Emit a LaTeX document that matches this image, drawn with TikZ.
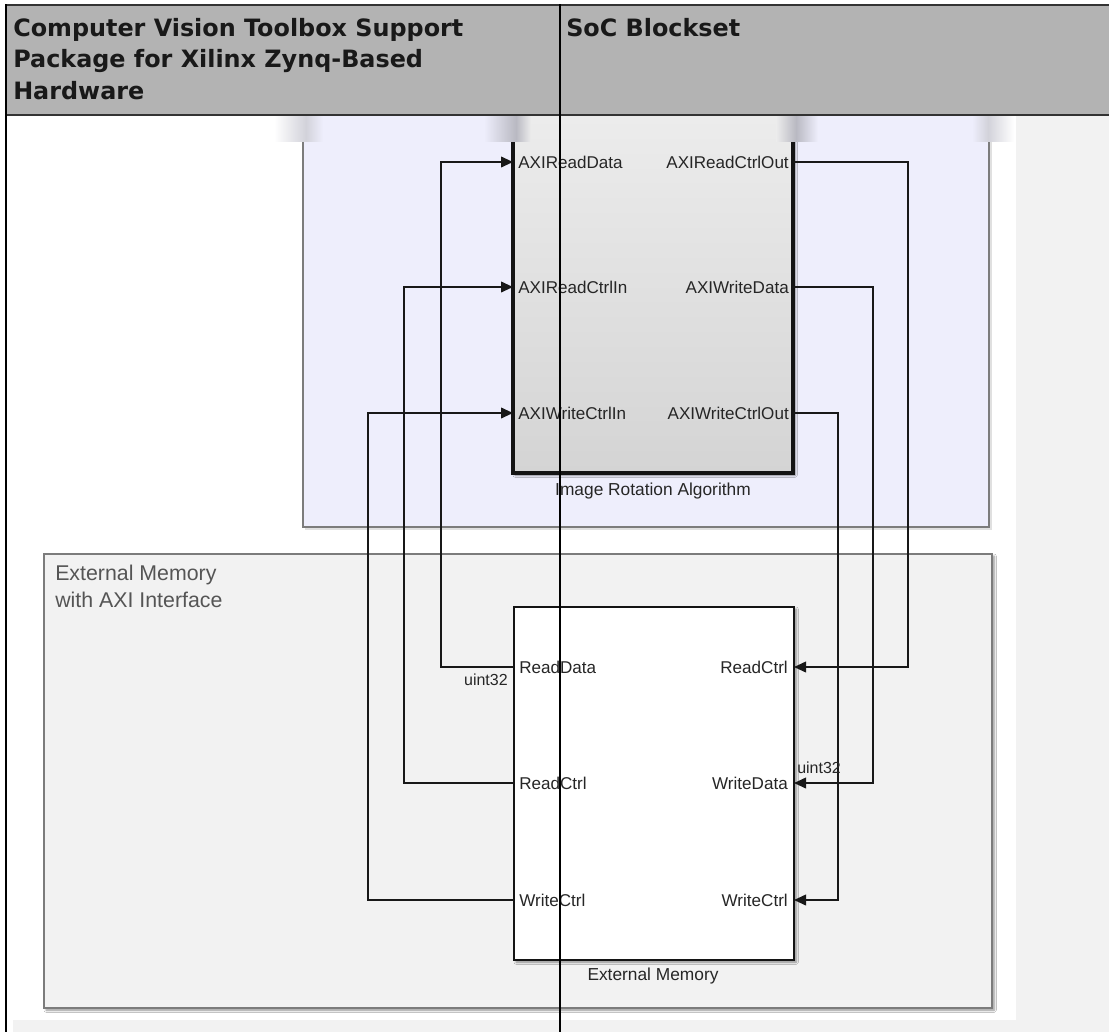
\documentclass[tikz,border=0pt]{standalone}
\usepackage{fontspec}
\setmainfont{Liberation Sans}
\newfontfamily\hdrfont{DejaVu Sans}
\usetikzlibrary{arrows.meta,shadows.blur}

\definecolor{hdrgray}{HTML}{B3B3B3}
\definecolor{hdrline}{HTML}{333333}
\definecolor{subsys}{HTML}{EEEEFC}
\definecolor{memarea}{HTML}{F2F2F2}
\definecolor{pagegray}{HTML}{F2F2F2}
\definecolor{blktop}{HTML}{ECECEC}
\definecolor{blkbot}{HTML}{D4D4D4}
\definecolor{areaedge}{HTML}{7C7C7C}
\definecolor{labelgray}{HTML}{555555}
\definecolor{wirec}{HTML}{181818}
\definecolor{spotdark}{HTML}{B9B9C2}
\definecolor{spotlight}{HTML}{D2D2DA}

\tikzset{
  wire/.style={draw=wirec, line width=1.3pt, line join=miter},
  inwire/.style={wire, -{Triangle[length=9pt,width=8pt]}},
  blkedge/.style={draw=black!92, line width=2.4pt, line join=miter},
  arealine/.style={draw=areaedge, line width=1.1pt, line join=miter},
  portlbl/.style={inner sep=0pt, text=black!85, font=\fontsize{12.8}{15}\selectfont},
  typelbl/.style={inner sep=0pt, text=black!85, font=\fontsize{12}{14}\selectfont},
  blklbl/.style={inner sep=0pt, text=black!85, font=\fontsize{13}{15}\selectfont},
  grplbl/.style={inner sep=0pt, text=labelgray, font=\fontsize{16}{19}\selectfont},
  hdrlbl/.style={inner sep=0pt, text=black!90, font=\hdrfont\bfseries\fontsize{17.9}{23.8}\selectfont},
  softshadow/.style={blur shadow={shadow xshift=1.6pt, shadow yshift=-1.6pt,
      shadow blur radius=1.6pt, shadow blur steps=6, shadow opacity=45}},
}

\begin{document}
\begin{tikzpicture}[x=0.75pt, y=-0.75pt]
\useasboundingbox (0,0) rectangle (1109,1032);

% table cell and header row
\fill[white] (0,0) rectangle (1109,1032);
\fill[hdrgray] (6,4) rectangle (1109,114);

% page behind the model canvas
\fill[pagegray] (13,116) rectangle (1109,1032);
\fill[white] (13,116) rectangle (1016,1020);

% algorithm subsystem area (lavender)
\fill[subsys] (303,116) rectangle (989,527);
\draw[black!12, line width=1pt] (305,529) -- (991,529) -- (991,141);
\draw[arealine] (303,141) -- (303,527) -- (989,527) -- (989,141);

% external memory area (grey)
\fill[memarea, softshadow] (44,554) rectangle (992,1008);
\draw[arealine] (44,554) rectangle (992,1008);

% Image Rotation Algorithm block (top cut off)
\shade[top color=blktop, bottom color=blkbot, softshadow] (513,116) rectangle (793,473);
\draw[blkedge] (513,141) -- (513,473) -- (793,473) -- (793,141);

% External Memory block
\fill[white, softshadow] (514,607) rectangle (794,960);
\draw[blkedge, line width=2.1pt] (514,607) rectangle (794,960);

% soft fade along the cropped top edge
\shade[left color=white, right color=spotlight] (274,116) rectangle (306,141);
\shade[left color=spotlight, right color=subsys] (306,116) rectangle (323,141);
\shade[left color=subsys, right color=spotdark] (484,116) rectangle (516,141);
\shade[left color=spotdark, right color=blktop] (516,116) rectangle (531,141);
\shade[left color=blktop, right color=spotdark] (776,116) rectangle (796,141);
\shade[left color=spotdark, right color=subsys] (796,116) rectangle (818,141);
\shade[left color=subsys, right color=spotlight] (972,116) rectangle (988,141);
\shade[left color=spotlight, right color=white] (988,116) rectangle (1014,141);

% port positions
\coordinate (aIn1) at (513,162);
\coordinate (aIn2) at (513,287);
\coordinate (aIn3) at (513,413);
\coordinate (aOut1) at (793,162);
\coordinate (aOut2) at (793,287);
\coordinate (aOut3) at (793,413);
\coordinate (mOut1) at (514,667);
\coordinate (mOut2) at (514,783);
\coordinate (mOut3) at (514,900);
\coordinate (mIn1) at (794,667);
\coordinate (mIn2) at (794,783);
\coordinate (mIn3) at (794,900);
% routing columns
\coordinate (cL1) at (441,0);
\coordinate (cL2) at (404,0);
\coordinate (cL3) at (368,0);
\coordinate (cR1) at (908,0);
\coordinate (cR2) at (873,0);
\coordinate (cR3) at (838,0);

% signal lines
\draw[inwire] (mOut1) -- (mOut1 -| cL1) |- (aIn1);
\draw[inwire] (mOut2) -- (mOut2 -| cL2) |- (aIn2);
\draw[inwire] (mOut3) -- (mOut3 -| cL3) |- (aIn3);
\draw[inwire] (aOut1) -- (aOut1 -| cR1) |- (mIn1);
\draw[inwire] (aOut2) -- (aOut2 -| cR2) |- (mIn2);
\draw[inwire] (aOut3) -- (aOut3 -| cR3) |- (mIn3);

% algorithm block ports
\node[portlbl, anchor=base west] (pAxiRd) at (518,168) {AXIReadData};
\node[portlbl, anchor=base west] (pAxiRcIn) at (518,293) {AXIReadCtrlIn};
\node[portlbl, anchor=base west] (pAxiWcIn) at (518,419) {AXIWriteCtrlIn};
\node[portlbl, anchor=base east] (pAxiRcOut) at (789,168) {AXIReadCtrlOut};
\node[portlbl, anchor=base east] (pAxiWd) at (789,293) {AXIWriteData};
\node[portlbl, anchor=base east] (pAxiWcOut) at (789,419) {AXIWriteCtrlOut};
\node[blklbl, anchor=base] (algName) at (653,495) {Image Rotation Algorithm};

% memory block ports
\node[portlbl, anchor=base west] (pRd) at (519,673) {ReadData};
\node[portlbl, anchor=base west] (pRc) at (519,789) {ReadCtrl};
\node[portlbl, anchor=base west] (pWc) at (519,906) {WriteCtrl};
\node[portlbl, anchor=base east] (pRcIn) at (788,673) {ReadCtrl};
\node[portlbl, anchor=base east] (pWdIn) at (788,789) {WriteData};
\node[portlbl, anchor=base east] (pWcIn) at (788,906) {WriteCtrl};
\node[blklbl, anchor=base] (memName) at (653,980) {External Memory};

% signal data types
\node[typelbl, anchor=base east] (tRd) at (508,685) {uint32};
\node[typelbl, anchor=base west] (tWd) at (797,773) {uint32};

% area annotation
\node[grplbl, anchor=base west] (grp1) at (55,580) {External Memory};
\node[grplbl, anchor=base west] (grp2) at (55,607) {with AXI Interface};

% header texts
\node[hdrlbl, anchor=base west] (h1a) at (13,36) {Computer Vision Toolbox Support};
\node[hdrlbl, anchor=base west] (h1b) at (13,67.7) {Package for Xilinx Zynq-Based};
\node[hdrlbl, anchor=base west] (h1c) at (13,99.4) {Hardware};
\node[hdrlbl, anchor=base west] (h2) at (566,36) {SoC Blockset};

% table rules
\draw[hdrline, line width=1.5pt] (6,4.5) -- (1109,4.5);
\draw[hdrline, line width=1.5pt] (6,114.5) -- (1109,114.5);
\draw[black, line width=1.6pt] (6,4) -- (6,1032);
\draw[black, line width=1.1pt] (560,4) -- (560,1032);
\end{tikzpicture}
\end{document}
